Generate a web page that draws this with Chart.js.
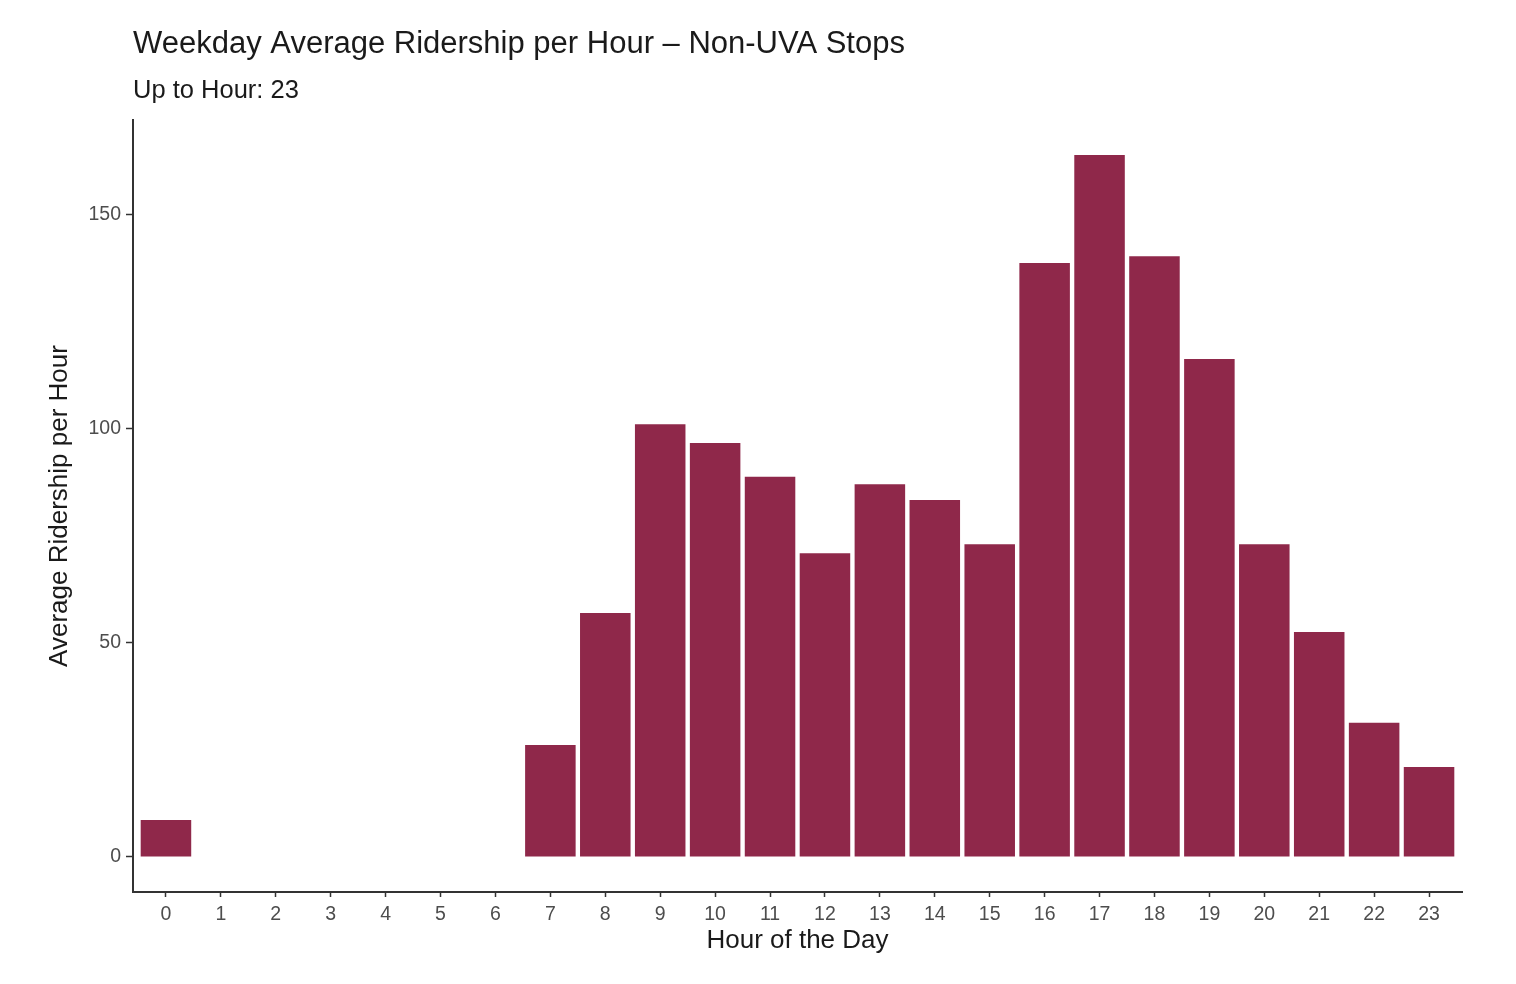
<!DOCTYPE html>
<html>
<head>
<meta charset="utf-8">
<script src="https://cdn.jsdelivr.net/npm/chart.js@4.4.1/dist/chart.umd.min.js"></script>
<style>
  html, body { margin: 0; padding: 0; background: #fff; }
  #wrap { width: 1516px; height: 984px; }
</style>
</head>
<body>
<div id="wrap"><canvas id="barChart"></canvas></div>
<script>
var hours = [0, 7, 8, 9, 10, 11, 12, 13, 14, 15, 16, 17, 18, 19, 20, 21, 22, 23];
var riders = [8.6, 26.1, 56.9, 101, 96.6, 88.7, 70.9, 87.0, 83.3, 73.0, 138.6, 163.8, 140.2, 116.2, 73.0, 52.5, 31.3, 21.0];
var yTicks = [0, 50, 100, 150];

var titleText = 'Weekday Average Ridership per Hour \u2013 Non-UVA Stops';
var subtitleText = 'Up to Hour: 23';

var FONT = '"Liberation Sans", Arial, Helvetica, sans-serif';
var barColor = '#8f284a';

// ggplot style padding: 5% of the data range on the y axis, 0.6 of a step on x
var yMax = Math.max.apply(null, riders);
var yPad = yMax * 0.05;

var points = hours.map(function (h, i) { return { x: h, y: riders[i] }; });

// title and subtitle drawn at the left edge of the plot panel
var headerPlugin = {
    id: 'header',
    afterDraw: function (chart) {
        var ctx = chart.ctx;
        var left = chart.chartArea.left;
        ctx.save();
        ctx.fillStyle = '#1a1a1a';
        ctx.textBaseline = 'alphabetic';
        ctx.textAlign = 'left';
        ctx.font = '31px ' + FONT;
        ctx.fillText(titleText, left, 53);
        ctx.font = '25.5px ' + FONT;
        ctx.fillText(subtitleText, left, 98);
        ctx.restore();
    }
};

var ctx = document.getElementById('barChart');
new Chart(ctx, {
    type: 'bar',
    data: {
        datasets: [{
            data: points,
            backgroundColor: barColor,
            borderWidth: 0,
            categoryPercentage: 1,
            barPercentage: 0.92
        }]
    },
    options: {
        responsive: true,
        maintainAspectRatio: false,
        animation: false,
        layout: { padding: { top: 120, right: 54, left: 0, bottom: 0 } },
        plugins: {
            legend: { display: false },
            tooltip: { enabled: false }
        },
        scales: {
            x: {
                type: 'linear',
                min: -0.6,
                max: 23.6,
                offset: false,
                afterBuildTicks: function (scale) {
                    var t = [];
                    for (var h = 0; h <= 23; h++) t.push({ value: h });
                    scale.ticks = t;
                },
                afterFit: function (scale) { scale.height = 92; },
                grid: {
                    offset: false,
                    drawOnChartArea: false,
                    drawTicks: true,
                    tickLength: 5,
                    tickColor: '#333333',
                    tickWidth: 1.5
                },
                border: { color: '#333333', width: 2 },
                ticks: {
                    autoSkip: false,
                    maxRotation: 0,
                    padding: 6,
                    color: '#4d4d4d',
                    font: { family: FONT, size: 19.5 }
                },
                title: {
                    display: true,
                    text: 'Hour of the Day',
                    color: '#1a1a1a',
                    font: { family: FONT, size: 26 },
                    padding: { top: 0, bottom: 28 }
                }
            },
            y: {
                min: -yPad,
                max: yMax + yPad,
                afterBuildTicks: function (scale) {
                    scale.ticks = yTicks.map(function (v) { return { value: v }; });
                },
                afterFit: function (scale) { scale.width = 133; },
                grid: {
                    drawOnChartArea: false,
                    drawTicks: true,
                    tickLength: 7,
                    tickColor: '#333333',
                    tickWidth: 1.5
                },
                border: { color: '#333333', width: 2 },
                ticks: {
                    padding: 5,
                    color: '#4d4d4d',
                    font: { family: FONT, size: 19.5 }
                },
                title: {
                    display: true,
                    text: 'Average Ridership per Hour',
                    color: '#1a1a1a',
                    font: { family: FONT, size: 26 },
                    padding: { top: 44, bottom: 0 }
                }
            }
        }
    },
    plugins: [headerPlugin]
});
</script>
</body>
</html>
